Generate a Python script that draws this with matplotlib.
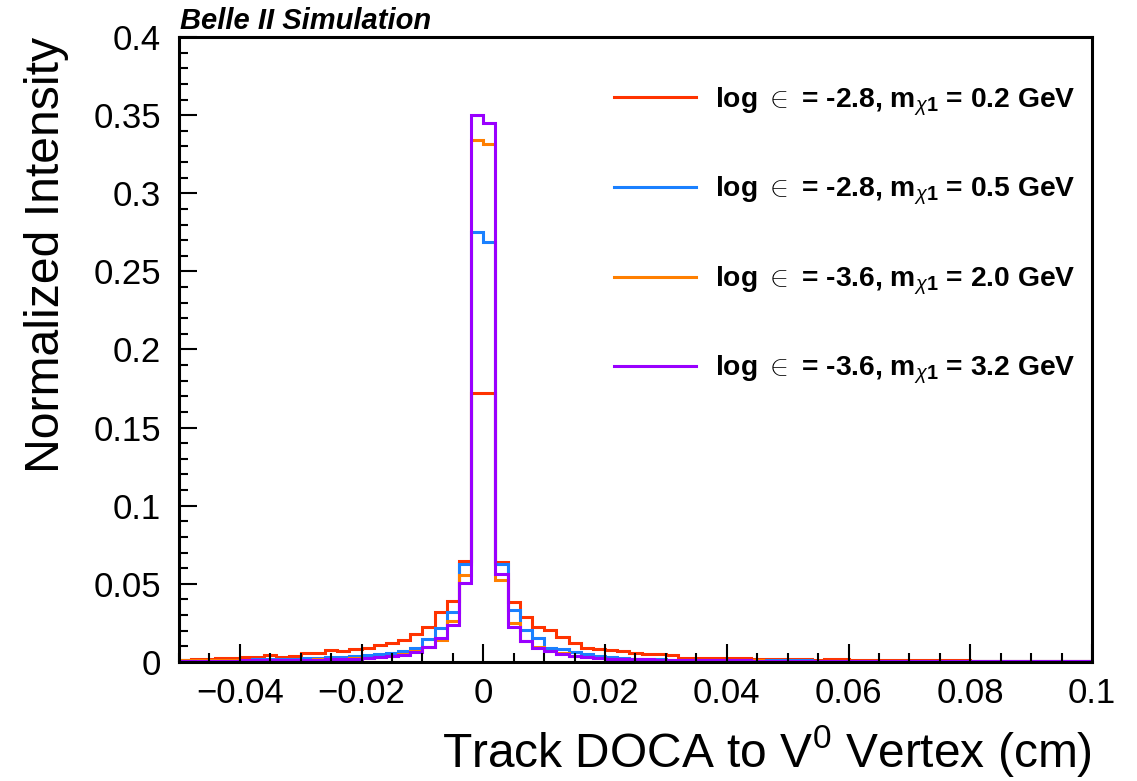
import numpy as np
import matplotlib
matplotlib.use("Agg")
import matplotlib.pyplot as plt
from matplotlib.ticker import MultipleLocator

plt.rcParams['font.family'] = ['Liberation Sans', 'DejaVu Sans']
plt.rcParams['mathtext.fontset'] = 'custom'
plt.rcParams['mathtext.rm'] = 'Liberation Sans'
plt.rcParams['mathtext.it'] = 'Liberation Sans:italic'
plt.rcParams['mathtext.bf'] = 'Liberation Sans:bold'

# binning: 75 bins of 0.002 cm from -0.05 to 0.1
x_lo, x_hi = -0.05, 0.1

labels = [r"log $\in$ = -2.8, m$_{\chi\mathbf{1}}$ = 0.2 GeV",
          r"log $\in$ = -2.8, m$_{\chi\mathbf{1}}$ = 0.5 GeV",
          r"log $\in$ = -3.6, m$_{\chi\mathbf{1}}$ = 2.0 GeV",
          r"log $\in$ = -3.6, m$_{\chi\mathbf{1}}$ = 3.2 GeV"]
colors = ['#ff3300', '#1a80ff', '#ff7f00', '#9900ff']

xticks = [-0.04, -0.02, 0, 0.02, 0.04, 0.06, 0.08, 0.1]
xticklabels = ['\u22120.04', '\u22120.02', '0', '0.02', '0.04', '0.06', '0.08', '0.1']
yticks = [0, 0.05, 0.1, 0.15, 0.2, 0.25, 0.3, 0.35, 0.4]
yticklabels = ['0', '0.05', '0.1', '0.15', '0.2', '0.25', '0.3', '0.35', '0.4']

h_red = [0.0015, 0.0020, 0.0021, 0.0026, 0.0028, 0.0030, 0.0030, 0.0047, 0.0030, 0.0038,
         0.0060, 0.0055, 0.0077, 0.0070, 0.0083, 0.0088, 0.0109, 0.0120, 0.0141, 0.0179,
         0.0226, 0.0322, 0.0390, 0.0647, 0.1720, 0.1722, 0.0642, 0.0386, 0.0290, 0.0226,
         0.0205, 0.0158, 0.0120, 0.0088, 0.0083, 0.0077, 0.0072, 0.0055, 0.0051, 0.0051,
         0.0045, 0.0028, 0.0024, 0.0024, 0.0028, 0.0028, 0.0024, 0.0020, 0.0020, 0.0018,
         0.0018, 0.0020, 0.0015, 0.0018, 0.0018, 0.0015, 0.0015, 0.0013, 0.0012, 0.0012,
         0.0011, 0.0011, 0.0010, 0.0010, 0.0010, 0.0009, 0.0009, 0.0009, 0.0009, 0.0008,
         0.0008, 0.0008, 0.0008, 0.0008, 0.0008]

h_blue = [0.0010, 0.0011, 0.0012, 0.0013, 0.0014, 0.0015, 0.0016, 0.0017, 0.0018, 0.0020,
          0.0023, 0.0028, 0.0030, 0.0034, 0.0038, 0.0045, 0.0049, 0.0055, 0.0072, 0.0088,
          0.0145, 0.0216, 0.0322, 0.0626, 0.2753, 0.2687, 0.0626, 0.0333, 0.0205, 0.0152,
          0.0092, 0.0083, 0.0066, 0.0049, 0.0038, 0.0030, 0.0024, 0.0020, 0.0018, 0.0016,
          0.0015, 0.0014, 0.0014, 0.0013, 0.0013, 0.0012, 0.0012, 0.0011, 0.0011, 0.0010,
          0.0010, 0.0010, 0.0009, 0.0009, 0.0009, 0.0008, 0.0008, 0.0008, 0.0008, 0.0007,
          0.0007, 0.0007, 0.0007, 0.0007, 0.0006, 0.0006, 0.0006, 0.0006, 0.0006, 0.0006,
          0.0006, 0.0006, 0.0006, 0.0006, 0.0006]

h_orange = [0.0010, 0.0010, 0.0011, 0.0011, 0.0011, 0.0012, 0.0012, 0.0012, 0.0013, 0.0014,
            0.0015, 0.0017, 0.0019, 0.0021, 0.0024, 0.0028, 0.0034, 0.0040, 0.0048, 0.0068,
            0.0098, 0.0140, 0.0260, 0.0555, 0.3342, 0.3318, 0.0524, 0.0248, 0.0137, 0.0098,
            0.0072, 0.0055, 0.0038, 0.0030, 0.0024, 0.0020, 0.0018, 0.0016, 0.0015, 0.0014,
            0.0013, 0.0012, 0.0012, 0.0011, 0.0011, 0.0010, 0.0010, 0.0010, 0.0009, 0.0009,
            0.0009, 0.0008, 0.0008, 0.0008, 0.0008, 0.0007, 0.0007, 0.0007, 0.0007, 0.0007,
            0.0006, 0.0006, 0.0006, 0.0006, 0.0006, 0.0006, 0.0006, 0.0006, 0.0006, 0.0006,
            0.0006, 0.0006, 0.0006, 0.0006, 0.0006]

h_purple = [0.0008, 0.0008, 0.0009, 0.0009, 0.0009, 0.0010, 0.0010, 0.0010, 0.0011, 0.0011,
            0.0012, 0.0014, 0.0016, 0.0018, 0.0020, 0.0024, 0.0034, 0.0038, 0.0045, 0.0067,
            0.0098, 0.0151, 0.0237, 0.0508, 0.3502, 0.3448, 0.0560, 0.0226, 0.0135, 0.0090,
            0.0068, 0.0052, 0.0040, 0.0032, 0.0026, 0.0022, 0.0020, 0.0018, 0.0016, 0.0015,
            0.0014, 0.0013, 0.0012, 0.0011, 0.0011, 0.0010, 0.0010, 0.0009, 0.0009, 0.0009,
            0.0008, 0.0008, 0.0008, 0.0008, 0.0007, 0.0007, 0.0007, 0.0007, 0.0007, 0.0007,
            0.0006, 0.0006, 0.0006, 0.0006, 0.0006, 0.0006, 0.0006, 0.0006, 0.0006, 0.0006,
            0.0006, 0.0006, 0.0006, 0.0006, 0.0006]

hists = [h_red, h_blue, h_orange, h_purple]
edges = np.linspace(x_lo, x_hi, len(h_red) + 1)

fig = plt.figure(figsize=(11.37, 7.81), dpi=100)
ax = fig.add_axes([0.1574, 0.1524, 0.803, 0.8002])

for h, c, lab in zip(hists, colors, labels):
    ax.stairs(h, edges, color=c, lw=2.2, label=lab, baseline=None)

ax.set_xticks(xticks, xticklabels)
ax.set_yticks(yticks, yticklabels)
ax.xaxis.set_minor_locator(MultipleLocator(0.005))
ax.yaxis.set_minor_locator(MultipleLocator(0.01))
ax.set_xlim(x_lo, x_hi)
ax.set_ylim(0, 0.4)
ax.tick_params(which='both', direction='in', top=False, right=False, width=1.5, labelsize=25)
ax.tick_params(which='major', length=13)
ax.tick_params(which='minor', length=6.5)
ax.tick_params(axis='x', pad=11)
ax.tick_params(axis='y', pad=13)
for s in ax.spines.values():
    s.set_linewidth(2.2)

ax.set_xlabel(r"Track DOCA to V$^{0}$ Vertex (cm)", fontsize=34.5, loc='right')
ax.xaxis.set_label_coords(1.0, -0.098)
ax.set_ylabel("Normalized Intensity", fontsize=34.7, loc='top')
ax.yaxis.set_label_coords(-0.12, 1.0)

fig.text(180 / 1137, 1 - 29 / 781, "Belle II Simulation", fontsize=21,
         fontweight='bold', fontstyle='italic', va='baseline')

leg = ax.legend(loc='upper left', bbox_to_anchor=(0.449, 0.963), frameon=False,
                prop={'size': 20.3, 'weight': 'bold'}, handlelength=2.9,
                handletextpad=0.67, labelspacing=2.03)

fig.savefig("out.png", dpi=100)
